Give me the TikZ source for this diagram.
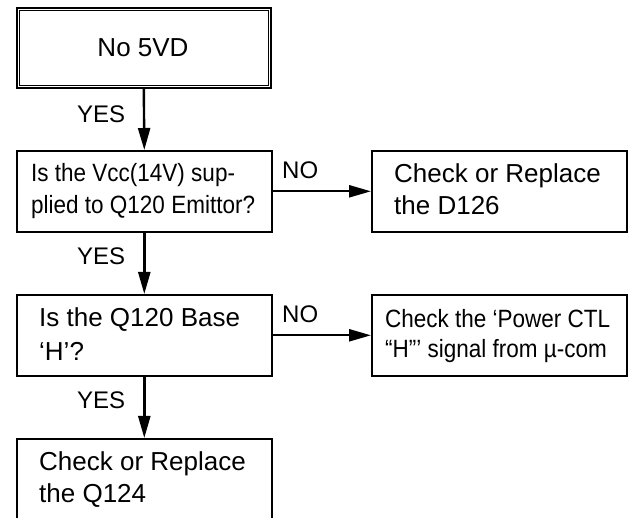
\documentclass[tikz,border=0pt]{standalone}
\usepackage{fontspec}
\setmainfont{Liberation Sans}
\newfontfamily\condfont[FakeStretch=0.9]{Liberation Sans}
\usetikzlibrary{arrows.meta}
\tikzset{
  box/.style={draw, line width=1.6pt, minimum width=255pt, minimum height=81pt, inner sep=0pt, anchor=north west},
  txt/.style={anchor=base west, inner sep=0pt, font=\fontsize{26}{30}\selectfont},
  ctxt/.style={anchor=base west, inner sep=0pt, font=\condfont\fontsize{25}{30}\selectfont},
  lbl/.style={anchor=base west, inner sep=0pt, font=\fontsize{24}{28}\selectfont},
  arr/.style={line width=2.4pt, -{Triangle[length=22pt,width=12pt]}},
}
\begin{document}
\begin{tikzpicture}[x=1pt,y=-1pt]
\clip (0,0) rectangle (632,518);
\fill[white] (0,0) rectangle (632,518);
% boxes
\node[box, minimum width=254pt, minimum height=80pt] (b1) at (16,7) {};
\draw[line width=0.8pt] ([shift={(3.5,3.5)}]b1.north west) rectangle ([shift={(-3.5,-3.5)}]b1.south east);
\node[box] (b2) at (16,150) {};
\node[box] (b3) at (371,150) {};
\node[box] (b4) at (16,294) {};
\node[box] (b5) at (371,294) {};
\node[box, minimum height=100pt] (b6) at (16,438) {};
% texts
\node[anchor=base, inner sep=0pt, font=\fontsize{26}{30}\selectfont] (t1) at (143,57) {No 5VD};
\node[ctxt] (t2a) at (31,182) {Is the Vcc(14V) sup-};
\node[ctxt] (t2b) at (31,214) {plied to Q120 Emittor?};
\node[txt] (t3a) at (394,183) {Check or Replace};
\node[txt] (t3b) at (394,215) {the D126};
\node[txt] (t4a) at (39,327) {Is the Q120 Base};
\node[txt] (t4b) at (39,361) {‘H’?};
\node[ctxt] (t5a) at (385,328) {Check the ‘Power CTL};
\node[ctxt] (t5b) at (385,358) {“H”’ signal from µ-com};
\node[txt] (t6a) at (39,471) {Check or Replace};
\node[txt] (t6b) at (39,502) {the Q124};
% labels
\node[lbl] (y1) at (77,123) {YES};
\node[lbl] (y2) at (77,265) {YES};
\node[lbl] (y3) at (77,409) {YES};
\node[lbl] (n1) at (282,179) {NO};
\node[lbl] (n2) at (282,323) {NO};
% arrows
\draw[arr] (b1.south) -- (b2.north);
\draw[arr] (b2.south) -- (b4.north);
\draw[arr] (b4.south) -- (b6.north);
\draw[arr] (b2.east) -- (b3.west);
\draw[arr] (b4.east) -- (b5.west);
\end{tikzpicture}
\end{document}
